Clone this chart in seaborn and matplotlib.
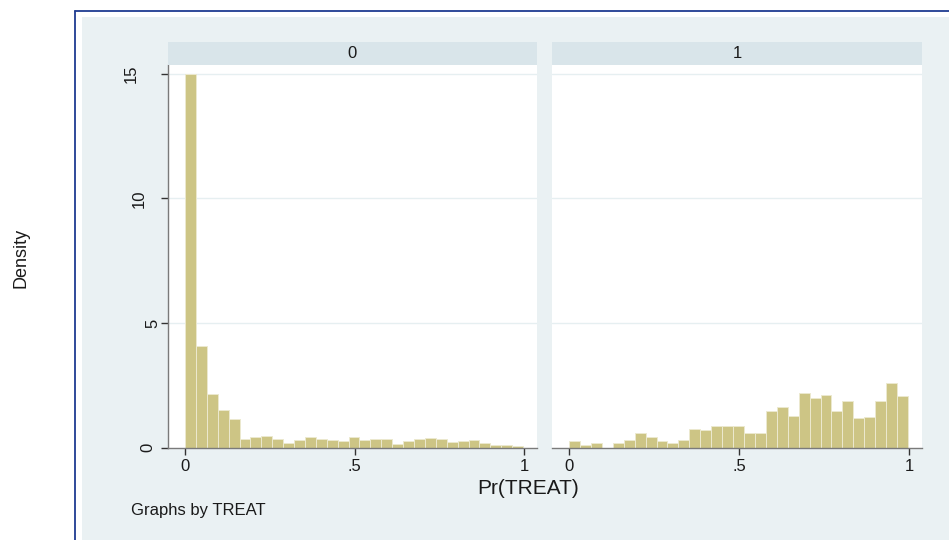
import numpy as np
import pandas as pd
import matplotlib
matplotlib.use("Agg")
import matplotlib.pyplot as plt
from matplotlib.patches import Rectangle
from matplotlib.lines import Line2D
import seaborn as sns

# Histogram densities of the propensity score Pr(TREAT), one panel per TREAT group
treat_groups = ["0", "1"]
density_treat0 = [15.0, 4.07, 2.13, 1.50, 1.15, 0.34, 0.42, 0.47, 0.35, 0.19,
                  0.31, 0.42, 0.35, 0.31, 0.25, 0.42, 0.31, 0.35, 0.35, 0.16,
                  0.28, 0.35, 0.39, 0.34, 0.23, 0.25, 0.29, 0.19, 0.09, 0.09, 0.05]
density_treat1 = [0.25, 0.12, 0.19, 0.0, 0.19, 0.32, 0.59, 0.44, 0.25, 0.17,
                  0.32, 0.76, 0.70, 0.88, 0.88, 0.88, 0.59, 0.59, 1.47, 1.61,
                  1.27, 2.20, 2.00, 2.12, 1.47, 1.88, 1.17, 1.22, 1.88, 2.57, 2.06]
bin_start = 0.0
bin_end = 0.996
x_ticks = [0, 0.5, 1]
x_tick_labels = ["0", ".5", "1"]
y_ticks = [0, 5, 10, 15]
y_tick_labels = ["0", "5", "10", "15"]

n_bins = len(density_treat0)
edges = np.linspace(bin_start, bin_end, n_bins + 1)
centers = (edges[:-1] + edges[1:]) / 2
df = pd.DataFrame({
    "pr_treat": np.concatenate([centers, centers]),
    "density": density_treat0 + density_treat1,
    "TREAT": [treat_groups[0]] * n_bins + [treat_groups[1]] * n_bins,
})

sns.set_theme(style="white")
plt.rcParams["font.family"] = ["Liberation Sans", "DejaVu Sans"]

W, H = 949, 540
fig = plt.figure(figsize=(W / 100, H / 100), dpi=100)
fig.patch.set_facecolor("white")


def box(x0, y0, x1, y1):
    """Pixel box (top-left origin) -> figure-fraction rect."""
    return [x0 / W, 1 - y1 / H, (x1 - x0) / W, (y1 - y0) / H]


# graph region background and outer frame
fig.add_artist(Rectangle((82 / W, 0), 1 - 82 / W, 1 - 17 / H,
                         transform=fig.transFigure, facecolor="#EAF1F3",
                         edgecolor="none", zorder=0))
frame_col = "#1F3C91"
fig.add_artist(Line2D([74.5 / W, 74.5 / W], [0, 1 - 11 / H],
                      transform=fig.transFigure, color=frame_col, lw=1.3))
fig.add_artist(Line2D([74.5 / W, 1], [1 - 11 / H, 1 - 11 / H],
                      transform=fig.transFigure, color=frame_col, lw=1.3))

panels = [(168, 537), (552, 922)]
plot_top, plot_bottom, strip_top = 64.7, 447.5, 41.7
bar_col = "#CDC585"
axis_col = "#7A7A7A"
ytick_pads = [4, 0.5, 10.5, 16]

for i, (group, (x0, x1)) in enumerate(zip(treat_groups, panels)):
    ax = fig.add_axes(box(x0, plot_top, x1, plot_bottom))
    ax.set_facecolor("white")
    sub = df[df["TREAT"] == group]
    sns.histplot(data=sub, x="pr_treat", weights="density", bins=list(edges),
                 stat="count", ax=ax, color=bar_col, alpha=1,
                 edgecolor="#ECE9CF", linewidth=0.7)
    ax.set_xlim(-0.05, 1.037)
    ax.set_ylim(0, 15.37)
    ax.set_axisbelow(True)
    for yv in y_ticks[1:]:
        ax.axhline(yv, color="#E6EFF1", lw=1.0, zorder=0)
    ax.set_xlabel("")
    ax.set_ylabel("")
    for s in ["top", "right"]:
        ax.spines[s].set_visible(False)
    ax.spines["bottom"].set_color(axis_col)
    ax.spines["bottom"].set_linewidth(1.0)
    ax.set_xticks(x_ticks)
    ax.set_xticklabels(x_tick_labels, fontsize=12, color="#1a1a1a")
    ax.tick_params(axis="x", bottom=True, length=5, width=1, color="#333333",
                   pad=3.5, direction="out")
    if i == 0:
        ax.spines["left"].set_color(axis_col)
        ax.spines["left"].set_linewidth(1.0)
        ax.set_yticks(y_ticks)
        ax.set_yticklabels(y_tick_labels, fontsize=12, color="#1a1a1a",
                           rotation=90, va="center")
        ax.tick_params(axis="y", left=True, length=5, width=1,
                       color="#333333", direction="out")
        for t, pad in zip(ax.yaxis.get_major_ticks(), ytick_pads):
            t.set_pad(pad)
    else:
        ax.spines["left"].set_visible(False)
        ax.set_yticks([])
    ax.grid(False)

    # panel header strip
    sax = fig.add_axes(box(x0, strip_top, x1, plot_top))
    sax.set_facecolor("#D9E5EA")
    sax.set_xticks([])
    sax.set_yticks([])
    for s in sax.spines.values():
        s.set_visible(False)
    sax.text(0.5, 0.5, group, ha="center", va="center", fontsize=12,
             color="#1a1a1a", transform=sax.transAxes)

fig.text(528 / W, 1 - 489 / H, "Pr(TREAT)", ha="center", va="center",
         fontsize=15, color="#1a1a1a")
fig.text(21 / W, 1 - 258 / H, "Density", ha="center", va="center",
         rotation=90, fontsize=13, color="#1a1a1a")
fig.text(131 / W, 1 - 510 / H, "Graphs by TREAT", ha="left", va="center",
         fontsize=12, color="#1a1a1a")

fig.savefig("out.png", dpi=100)
